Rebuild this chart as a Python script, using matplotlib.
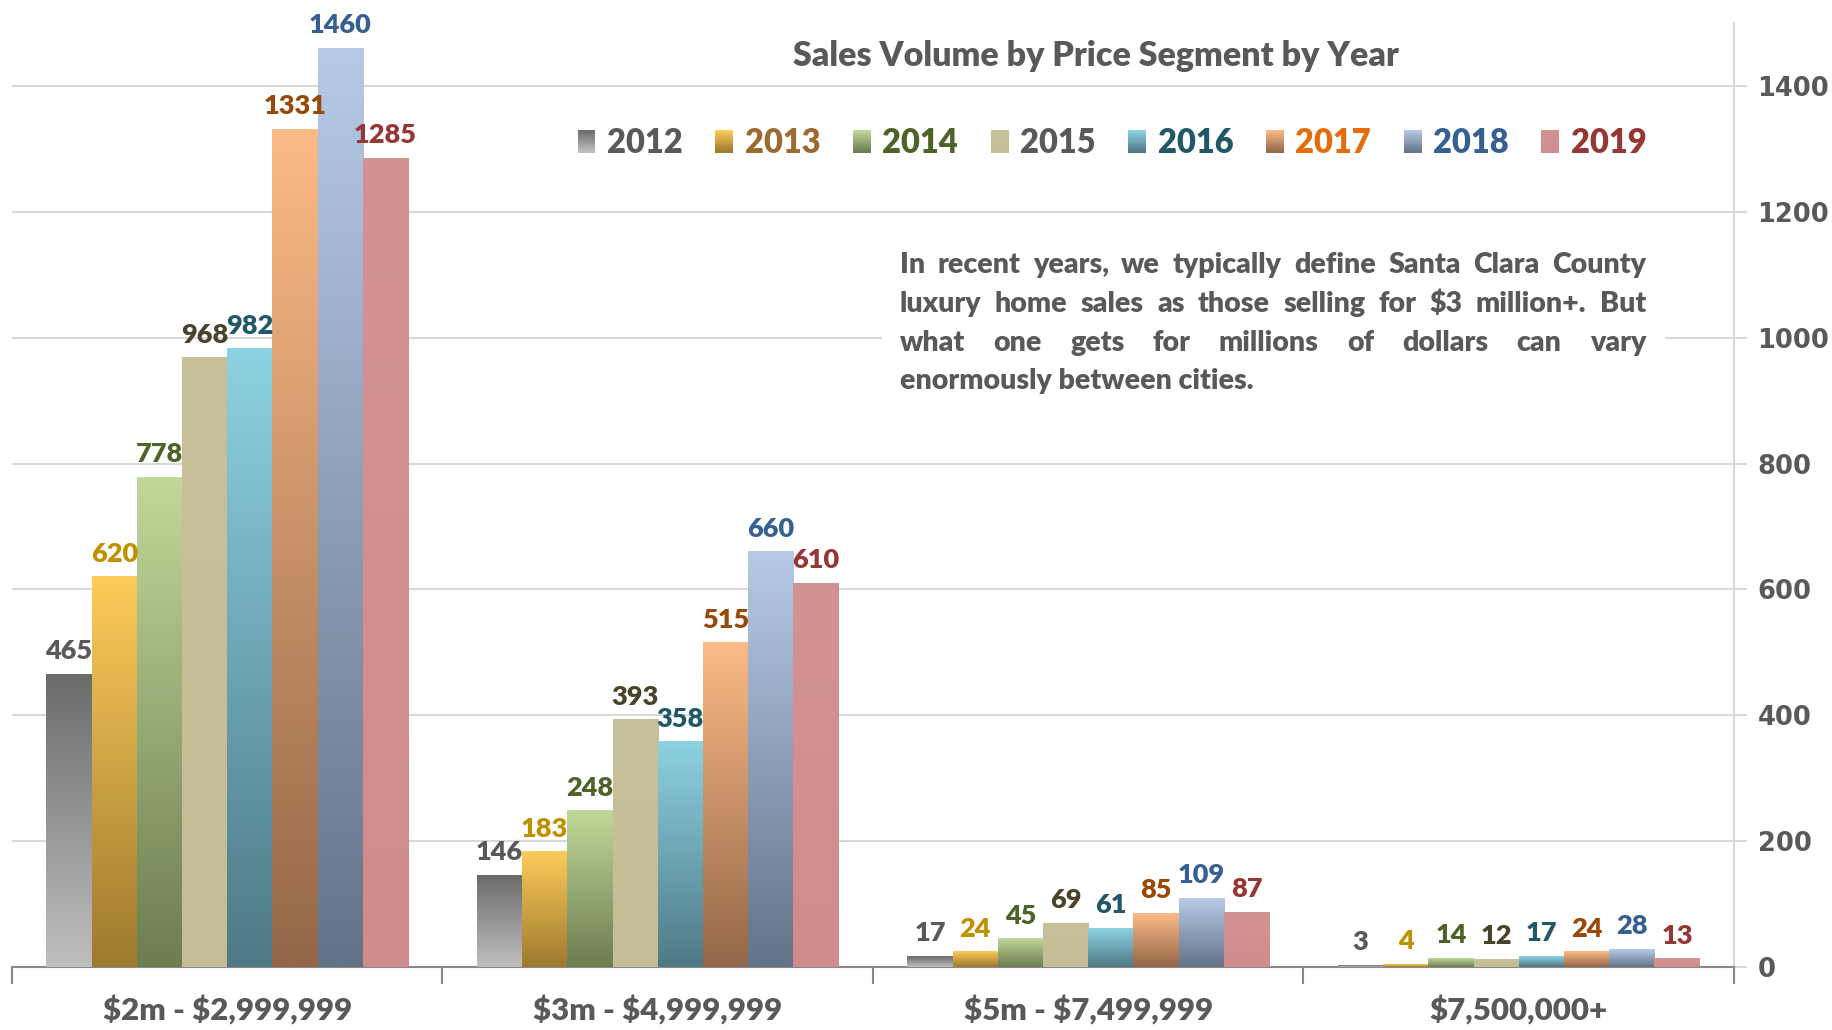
import numpy as np
import matplotlib.pyplot as plt
from matplotlib.colors import to_rgb
from matplotlib.legend_handler import HandlerBase
from matplotlib.patches import Rectangle

plt.rcParams['font.family'] = ['Lato', 'DejaVu Sans']
plt.rcParams['font.weight'] = 'bold'
WT = 'heavy'

segments = [r"\$2m - \$2,999,999", r"\$3m - \$4,999,999", r"\$5m - \$7,499,999", r"\$7,500,000+"]
years = ["2012", "2013", "2014", "2015", "2016", "2017", "2018", "2019"]
v2012 = [465, 146, 17, 3]
v2013 = [620, 183, 24, 4]
v2014 = [778, 248, 45, 14]
v2015 = [968, 393, 69, 12]
v2016 = [982, 358, 61, 17]
v2017 = [1331, 515, 85, 24]
v2018 = [1460, 660, 109, 28]
v2019 = [1285, 610, 87, 13]
values = [v2012, v2013, v2014, v2015, v2016, v2017, v2018, v2019]

# (top, bottom) gradient colours per year
grads = [('#6B6B6B', '#BFBFBF'), ('#FCCB5A', '#9E7A2E'), ('#C0D89A', '#6C7D50'),
         ('#C7C09A', '#C4BD96'), ('#8DD2E2', '#4E7985'), ('#FCBA86', '#936748'),
         ('#B6CAE8', '#647387'), ('#D49393', '#D08C8C')]
label_cols = ['#595959', '#BF9000', '#4F6228', '#494429', '#215868', '#984807', '#376092', '#953735']
legend_cols = ['#595959', '#9C6A31', '#4F6228', '#595959', '#215868', '#E46C0A', '#376092', '#953735']

title = "Sales Volume by Price Segment by Year"
note = ["In recent years, we typically define Santa Clara County",
        r"luxury home sales as those selling for \$3 million+. But",
        "what one gets for millions of dollars can vary",
        "enormously between cities."]

GREY = '#595959'


def grad_img(top, bot, n=128):
    t = np.linspace(0, 1, n)[:, None]
    a, b = np.array(to_rgb(top)), np.array(to_rgb(bot))
    return (a * (1 - t) + b * t)[:, None, :]


fig = plt.figure(figsize=(18.33, 10.30), dpi=100)
W, H = 1833, 1030
ax = fig.add_axes([12 / W, 1 - 967 / H, 1722 / W, 944 / H])

x = np.arange(len(segments))
bw = 0.105
for i, (vals, (top, bot)) in enumerate(zip(values, grads)):
    bars = ax.bar(x + (i - 3.5) * bw, vals, bw, color=bot, zorder=2, linewidth=0)
    img = grad_img(top, bot)
    for r, v in zip(bars, vals):
        x0, w = r.get_x(), r.get_width()
        ax.imshow(img, extent=[x0, x0 + w, 0, r.get_height()], aspect='auto',
                  zorder=3, interpolation='bilinear')
        ax.annotate(str(v), (x0 + w / 2, v), xytext=(0, 8), textcoords='offset points',
                    ha='center', va='bottom', fontsize=19.5, fontweight=WT,
                    color=label_cols[i], zorder=5)

ax.set_xlim(-0.5, 3.5)
ax.set_ylim(0, 1500)

# axes styling
for s in ['left', 'top']:
    ax.spines[s].set_visible(False)
ax.spines['right'].set_color('#D9D9D9')
ax.spines['right'].set_linewidth(1.5)
ax.spines['bottom'].set_color('#898989')
ax.spines['bottom'].set_linewidth(1.5)
ax.yaxis.tick_right()
ax.set_yticks(np.arange(0, 1401, 200))
ax.tick_params(axis='y', length=9, width=1.5, color='#D9D9D9', labelcolor=GREY,
               labelsize=18.5, pad=8)
for lab in ax.get_yticklabels():
    lab.set_fontfamily('DejaVu Sans')
    lab.set_fontweight('bold')
ax.yaxis.grid(True, color='#D9D9D9', linewidth=1.5, zorder=0)
ax.set_axisbelow(True)

ax.set_xticks(np.arange(-0.5, 3.6, 1))
ax.set_xticklabels([])
ax.tick_params(axis='x', which='major', length=12, width=1.5, color='#898989')
ax.set_xticks(x, minor=True)
ax.set_xticklabels(segments, minor=True, fontweight=WT)
ax.tick_params(axis='x', which='minor', length=0, pad=20, labelsize=22.5, labelcolor=GREY)

# white box behind the note
ax.add_patch(Rectangle((0.505, 0.591), 0.455, 0.198, transform=ax.transAxes,
                       facecolor='white', edgecolor='none', zorder=1))

fig.text(1096 / W, 1 - 56 / H, title, ha='center', va='center', fontsize=24.5,
         fontweight=WT, color=GREY)


# legend with gradient keys
class GradKey:
    def __init__(self, top, bot):
        self.top, self.bot = top, bot


class GradHandler(HandlerBase):
    def create_artists(self, legend, orig, xd, yd, width, height, fontsize, trans):
        n = 16
        arts = []
        a, b = np.array(to_rgb(orig.top)), np.array(to_rgb(orig.bot))
        for k in range(n):
            t = k / (n - 1)
            c = a * (1 - t) + b * t
            y0 = -yd + height * (1 - (k + 1) / n)
            arts.append(Rectangle((-xd, y0), width, height / n + 0.3, facecolor=c,
                                  edgecolor='none', transform=trans))
        return arts


keys = [GradKey(t, b) for t, b in grads]
leg = fig.legend(keys, years, handler_map={GradKey: GradHandler()}, ncol=8,
                 loc='center', bbox_to_anchor=(1112 / W, 1 - 143 / H), frameon=False,
                 fontsize=23.5, handlelength=0.55, handleheight=0.7, handletextpad=0.35,
                 columnspacing=1.0)
for t, c in zip(leg.get_texts(), legend_cols):
    t.set_color(c)
    t.set_fontweight(WT)

# justified note text
fig.canvas.draw()
renderer = fig.canvas.get_renderer()
left, right = 900, 1646
ys = [265, 304, 343, 381]
fs = 20.5
for li, (line, yp) in enumerate(zip(note, ys)):
    if li == len(note) - 1:
        fig.text(left / W, 1 - yp / H, line, ha='left', va='center', fontsize=fs,
                 fontweight=WT, color=GREY)
        continue
    words = line.split(' ')
    texts = [fig.text(0, 1 - yp / H, w_, ha='left', va='center', fontsize=fs,
                      fontweight=WT, color=GREY) for w_ in words]
    widths = [t.get_window_extent(renderer).width for t in texts]
    gap = (right - left - sum(widths)) / (len(words) - 1)
    pos = left
    for t, wd in zip(texts, widths):
        t.set_x(pos / W)
        pos += wd + gap

fig.savefig('out.png', dpi=100)
